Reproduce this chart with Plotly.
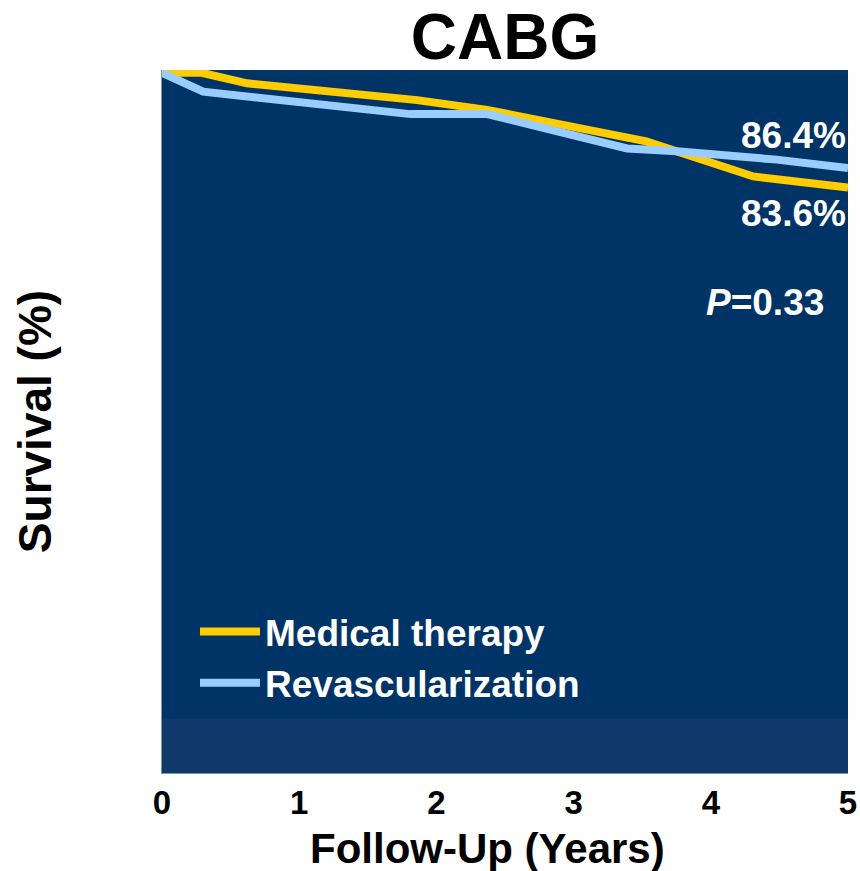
import plotly.graph_objects as go

# Data (years, survival %)
med_x = [0, 0.29, 0.62, 1.86, 2.37, 2.83, 3.53, 4.31, 5.0]
med_y = [100.0, 100.0, 98.5, 96.1, 94.7, 93.0, 90.2, 85.2, 83.6]
rev_x = [0, 0.30, 1.81, 2.37, 2.83, 3.39, 3.75, 4.48, 5.0]
rev_y = [100.0, 97.3, 94.1, 94.1, 91.9, 89.2, 88.8, 87.6, 86.4]
x_ticks = [0, 1, 2, 3, 4, 5]
series_names = ["Medical therapy", "Revascularization"]
end_labels = ["83.6%", "86.4%"]

BOLD = "Liberation Sans, Arial, sans-serif"

L, R, T, B = 162, 12, 70, 98
PW, PH = 860 - L - R, 871 - T - B


def px(xp):
    return (xp - L) / PW


def py(yp):
    return 1 - (yp - T) / PH


fig = go.Figure()
fig.add_trace(go.Scatter(x=med_x, y=med_y, mode="lines", name=series_names[0],
                         line=dict(color="#FFCC00", width=8), legendgroup="a"))
fig.add_trace(go.Scatter(x=rev_x, y=rev_y, mode="lines", name=series_names[1],
                         line=dict(color="#99CCFF", width=8), legendgroup="b"))

# lighter band at bottom of plot area
fig.add_shape(type="rect", xref="paper", yref="y", x0=0, x1=1, y0=0, y1=7.8,
              fillcolor="#10386A", line=dict(width=0), layer="below")

fig.add_annotation(x=1, y=py(135), xref="paper", yref="paper", text="<b>" + end_labels[1] + "</b>",
                   showarrow=False, xanchor="right", yanchor="middle",
                   font=dict(family=BOLD, size=37, color="white"))
fig.add_annotation(x=1, y=py(214), xref="paper", yref="paper", text="<b>" + end_labels[0] + "</b>",
                   showarrow=False, xanchor="right", yanchor="middle",
                   font=dict(family=BOLD, size=37, color="white"))
fig.add_annotation(x=px(765), y=py(302), xref="paper", yref="paper", text="<b><i>P</i>=0.33</b>",
                   showarrow=False, xanchor="center", yanchor="middle",
                   font=dict(family=BOLD, size=37, color="white"))
fig.add_annotation(x=px(487), y=py(848), xref="paper", yref="paper",
                   text="<b>Follow-Up (Years)</b>", showarrow=False,
                   xanchor="center", yanchor="middle",
                   font=dict(family=BOLD, size=42, color="black"))

fig.update_layout(
    width=860, height=871,
    margin=dict(l=L, r=R, t=T, b=B, autoexpand=False),
    paper_bgcolor="white", plot_bgcolor="#003366",
    title=dict(text="<b>CABG</b>", x=(162 + 848) / 2 / 860, xanchor="center",
               y=1 - 37 / 871, yanchor="middle",
               font=dict(family=BOLD, size=64, color="black")),
    xaxis=dict(range=[0, 5], tickvals=x_ticks, ticktext=[str(t) for t in x_ticks],
               showgrid=False, zeroline=False, showline=True, linecolor="#7f93ad",
               linewidth=1, ticks="", automargin=False,
               tickfont=dict(family=BOLD, size=33, color="black", weight="bold")),
    yaxis=dict(range=[0, 100.4], showticklabels=False, showgrid=False, zeroline=False,
               showline=True, linecolor="#7f93ad", linewidth=1, ticks="", automargin=False,
               title=dict(text="<b>Survival (%)</b>", standoff=94,
                          font=dict(family=BOLD, size=46, color="black"))),
    legend=dict(x=px(195), y=py(601), xanchor="left", yanchor="top", bgcolor="rgba(0,0,0,0)",
                font=dict(family=BOLD, size=37, color="white", weight="bold"),
                tracegroupgap=0, itemwidth=60),
    showlegend=True,
)
fig.write_html("out.html")
